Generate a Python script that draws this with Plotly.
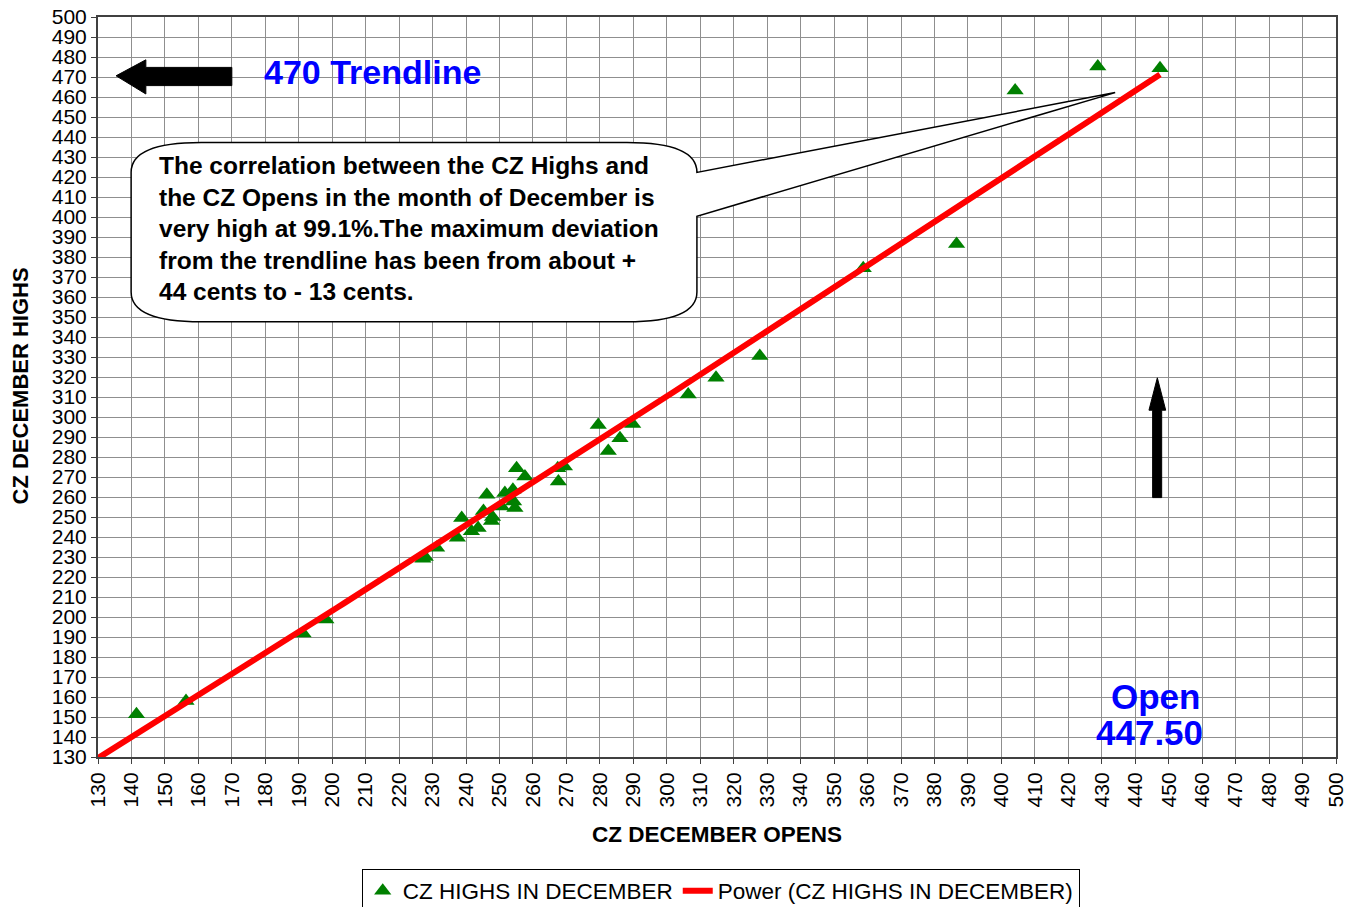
import numpy as np
import plotly.graph_objects as go

# ---- data ----
cz_opens = [141.5, 156.3, 191.3, 198.1, 227.1, 227.8, 231.2, 237.4, 238.7, 241.6,
            243.6, 245.2, 246.2, 247.6, 247.9, 250.6, 251.6, 254.0, 254.2, 254.6,
            255.1, 257.6, 267.4, 267.6, 269.4, 279.5, 282.5, 286.0, 289.8, 306.4,
            314.7, 327.8, 358.7, 386.6, 404.1, 428.8, 447.4]
cz_highs = [151.4, 158.0, 191.8, 198.7, 229.1, 230.0, 234.6, 239.6, 249.5, 242.9,
            244.5, 253.0, 261.1, 248.0, 250.0, 255.3, 262.0, 263.6, 257.8, 254.5,
            274.4, 270.3, 274.4, 267.8, 275.3, 296.0, 283.0, 289.4, 296.5, 311.3,
            319.6, 330.5, 374.4, 386.5, 463.3, 475.2, 474.4]
axis_ticks = list(range(130, 501, 10))
callout_lines = [
    "The correlation between the CZ Highs and",
    "the CZ Opens in the month of December is",
    "very high at 99.1%.The maximum deviation",
    "from the trendline has been from about +",
    "44 cents to - 13 cents.",
]
series_name = "CZ HIGHS IN DECEMBER"
trend_name = "Power (CZ HIGHS IN DECEMBER)"

# ---- power trendline fitted on the data (log-log regression) ----
b, ln_a = np.polyfit(np.log(cz_opens), np.log(cz_highs), 1)
trend_x = np.linspace(130, max(cz_opens), 200)
trend_y = np.exp(ln_a) * trend_x ** b

FONT = "Arial, 'Liberation Sans', sans-serif"

fig = go.Figure()
fig.add_trace(go.Scatter(
    x=cz_opens, y=cz_highs, mode="markers", name=series_name,
    marker=dict(symbol="triangle-up", size=15, color="#008000"),
))
fig.add_trace(go.Scatter(
    x=trend_x, y=trend_y, mode="lines", name=trend_name,
    line=dict(color="#FF0000", width=6),
))

axis_common = dict(
    range=[130, 500], tickmode="array", tickvals=axis_ticks,
    ticktext=[str(t) for t in axis_ticks],
    showgrid=True, gridcolor="#8f8f8f", gridwidth=1,
    showline=True, linecolor="#404040", linewidth=2, mirror=True,
    ticks="outside", ticklen=5, tickcolor="#404040",
    tickfont=dict(family=FONT, size=21, color="black"),
    ticklabeloverflow="allow",
    zeroline=False, fixedrange=True, automargin=False,
)
fig.update_xaxes(**axis_common, tickangle=-90)
fig.update_yaxes(**axis_common)

annotations = [
    dict(text="<b>CZ DECEMBER OPENS</b>", xref="paper", yref="paper", x=0.5, y=-0.105,
         showarrow=False, font=dict(family=FONT, size=22.5, color="black"),
         xanchor="center", yanchor="middle"),
    dict(text="<b>CZ DECEMBER HIGHS</b>", xref="paper", yref="paper", x=-0.0630, y=0.5007,
         showarrow=False, textangle=-90, font=dict(family=FONT, size=22, color="black"),
         xanchor="center", yanchor="middle"),
    dict(text="<b>470 Trendline</b>", xref="x", yref="y", x=211.9, y=472.6,
         showarrow=False,
         font=dict(family="'Liberation Sans Narrow', 'Arial Narrow', Arial, 'Liberation Sans', sans-serif",
                   size=34, color="#0000FF"),
         xanchor="center", yanchor="middle"),
    dict(text="<b>Open</b>", xref="x", yref="y", x=446.2, y=160.4, showarrow=False,
         font=dict(family=FONT, size=35, color="#0000FF"), xanchor="center", yanchor="middle"),
    dict(text="<b>447.50</b>", xref="x", yref="y", x=444.4, y=142.5, showarrow=False,
         font=dict(family=FONT, size=35, color="#0000FF"), xanchor="center", yanchor="middle"),
]
line_ys = [425.8, 409.8, 394.4, 378.5, 362.6]
for txt, ly in zip(callout_lines, line_ys):
    annotations.append(dict(
        text="<b>" + txt + "</b>", xref="x", yref="y", x=147.5, y=ly, showarrow=False,
        font=dict(family=FONT, size=24.5, color="black"), xanchor="left", yanchor="middle",
    ))

# callout bubble (rounded box with a wedge tail)
x0, x1, yt, yb = 139.9, 309.0, 437.3, 347.6
rx, ry = 20.9, 14.9
bubble = (
    f"M {x0+rx},{yt} L {x1-rx},{yt} Q {x1},{yt} {x1},{yt-ry} "
    f"L {x1},422.3 L 434.0,462.2 L {x1},400.4 "
    f"L {x1},{yb+ry} Q {x1},{yb} {x1-rx},{yb} "
    f"L {x0+rx},{yb} Q {x0},{yb} {x0},{yb+ry} "
    f"L {x0},{yt-ry} Q {x0},{yt} {x0+rx},{yt} Z"
)
left_arrow = ("M 135.4,470.6 L 144.3,478.6 L 144.3,474.8 L 170.0,474.8 "
              "L 170.0,465.7 L 144.3,465.7 L 144.3,461.5 Z")
up_arrow = ("M 446.6,319.6 L 449.1,303.4 L 447.9,303.4 L 447.9,259.7 "
            "L 445.2,259.7 L 445.2,303.4 L 444.1,303.4 Z")
shapes = [
    dict(type="path", path=bubble, xref="x", yref="y", fillcolor="white",
         line=dict(color="black", width=1.5), layer="above"),
    dict(type="path", path=left_arrow, xref="x", yref="y", fillcolor="black",
         line=dict(color="black", width=1), layer="above"),
    dict(type="path", path=up_arrow, xref="x", yref="y", fillcolor="black",
         line=dict(color="black", width=1), layer="above"),
]

# the page body adds an 8px offset; the figure is sized so the plot area
# lands where the reference has it and the legend is clipped at the window edge
fig.update_layout(
    width=1354, height=915, autosize=False,
    margin=dict(l=90, r=26, t=9, b=163, pad=0),
    paper_bgcolor="white", plot_bgcolor="white",
    font=dict(family=FONT, size=20, color="black"),
    showlegend=True,
    legend=dict(orientation="h", x=0.503, xanchor="center", y=-0.1507, yanchor="top",
                bordercolor="black", borderwidth=1, bgcolor="white",
                font=dict(family=FONT, size=22.5, color="black"),
                itemsizing="trace", tracegroupgap=0),
    annotations=annotations,
    shapes=shapes,
    hovermode=False,
)

fig.write_html("out.html")
